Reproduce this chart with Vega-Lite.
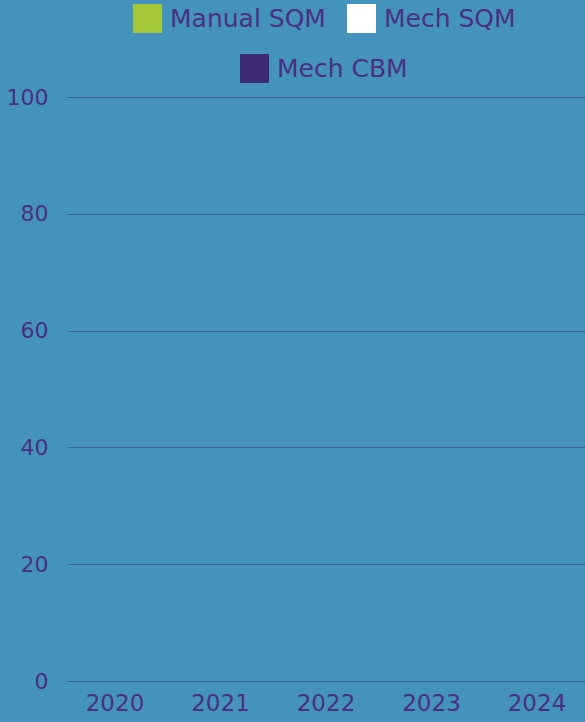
{
  "$schema": "https://vega.github.io/schema/vega-lite/v6.json",
  "width": 518,
  "height": 584,
  "autosize": {"type": "none"},
  "padding": {"left": 67, "right": 0, "top": 97, "bottom": 41},
  "background": "#4493bd",
  "data": {"values": [
    {"year": "2020", "series": "Manual SQM", "value": 0},
    {"year": "2020", "series": "Mech SQM", "value": 0},
    {"year": "2020", "series": "Mech CBM", "value": 0},
    {"year": "2021", "series": "Manual SQM", "value": 0},
    {"year": "2021", "series": "Mech SQM", "value": 0},
    {"year": "2021", "series": "Mech CBM", "value": 0},
    {"year": "2022", "series": "Manual SQM", "value": 0},
    {"year": "2022", "series": "Mech SQM", "value": 0},
    {"year": "2022", "series": "Mech CBM", "value": 0},
    {"year": "2023", "series": "Manual SQM", "value": 0},
    {"year": "2023", "series": "Mech SQM", "value": 0},
    {"year": "2023", "series": "Mech CBM", "value": 0},
    {"year": "2024", "series": "Manual SQM", "value": 0},
    {"year": "2024", "series": "Mech SQM", "value": 0},
    {"year": "2024", "series": "Mech CBM", "value": 0}
  ]},
  "encoding": {
    "x": {"field": "year", "type": "nominal", "title": null,
      "scale": {"paddingInner": 0.2, "paddingOuter": 0.055},
      "axis": {"labelAngle": 0, "domain": false, "ticks": false, "labelPadding": 11, "labelFontSize": 23}},
    "xOffset": {"field": "series", "sort": ["Manual SQM", "Mech SQM", "Mech CBM"]},
    "y": {"field": "value", "type": "quantitative", "title": null,
      "scale": {"domain": [0, 100]},
      "axis": {"values": [0, 20, 40, 60, 80, 100], "domain": false, "ticks": false, "labelPadding": 19, "gridColor": "#3d629c", "gridOpacity": 1, "gridWidth": 1}}
  },
  "layer": [
    {
      "transform": [{"filter": "datum.series !== 'Mech CBM'"}],
      "mark": {"type": "bar"},
      "encoding": {
        "color": {"field": "series", "type": "nominal", "title": null,
          "scale": {"domain": ["Manual SQM", "Mech SQM"], "range": ["#a4c639", "#ffffff"]},
          "legend": {"orient": "none", "direction": "horizontal", "legendX": 66, "legendY": -93, "columnPadding": 21}}
      }
    },
    {
      "transform": [{"filter": "datum.series === 'Mech CBM'"}],
      "mark": {"type": "bar"},
      "encoding": {
        "fill": {"field": "series", "type": "nominal", "title": null,
          "scale": {"domain": ["Mech CBM"], "range": ["#3f2a78"]},
          "legend": {"orient": "none", "direction": "horizontal", "legendX": 173, "legendY": -43}}
      }
    }
  ],
  "config": {
    "view": {"stroke": null},
    "font": "DejaVu Sans",
    "axis": {"labelFontSize": 22, "labelColor": "#4a2f82", "labelFont": "DejaVu Sans"},
    "legend": {"labelFont": "DejaVu Sans", "symbolType": "square", "symbolSize": 841, "symbolStrokeWidth": 0, "symbolOpacity": 1, "labelFontSize": 25, "labelColor": "#4a2f82", "labelOffset": 8, "padding": 0}
  }
}
